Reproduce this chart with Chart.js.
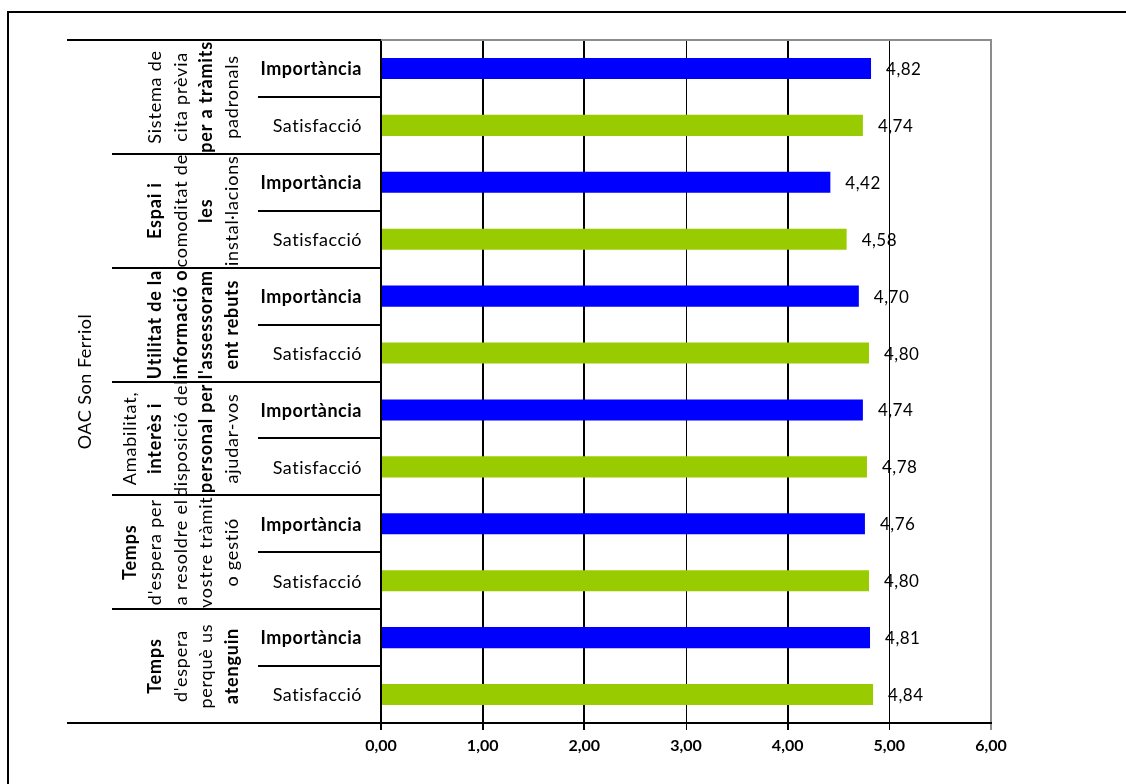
<!DOCTYPE html>
<html>
<head>
<meta charset="utf-8">
<title>OAC Son Ferriol</title>
<script src="https://cdn.jsdelivr.net/npm/chart.js@4/dist/chart.umd.min.js"></script>
<style>
  html, body { margin: 0; padding: 0; background: #fff; }
  #wrap { width: 1126px; height: 784px; position: relative; }
</style>
</head>
<body>
<div id="wrap"><canvas id="c" width="1126" height="784"></canvas></div>
<script>
// Service and its surveyed aspects (each split into the lines shown on the axis)
const serviceName = 'OAC Son Ferriol';
const aspectLines = [
  ['Sistema de', 'cita prèvia', 'per a tràmits', 'padronals'],
  ['Espai i', 'comoditat de', 'les', 'instal·lacions'],
  ['Utilitat de la', 'informació o', "l'assessoram", 'ent rebuts'],
  ['Amabilitat,', 'interès i', 'disposició del', 'personal per', 'ajudar-vos'],
  ['Temps', "d'espera per", 'a resoldre el', 'vostre tràmit', 'o gestió'],
  ['Temps', "d'espera", 'perquè us', 'atenguin']
];
const measures = ['Importància', 'Satisfacció'];

// Average scores (scale 1–5)
const importancia = [4.82, 4.42, 4.70, 4.74, 4.76, 4.81];
const satisfaccio = [4.74, 4.58, 4.80, 4.78, 4.80, 4.84];

// Value axis
const xMin = 0;
const xMax = 6;
const xStep = 1;

// Lines of the aspect labels drawn in bold
const boldLines = new Set(['per a tràmits', 'Espai i', 'les', 'Utilitat de la', 'informació o',
  "l'assessoram", 'ent rebuts', 'interès i', 'personal per', 'Temps', 'atenguin']);

const FONT = 'Lato, "Open Sans", sans-serif';
const fmt = v => v.toFixed(2).replace('.', ',');

// One row per (aspect, measure); each series fills only its own rows
const rowLabels = [];
const impRows = [];
const satRows = [];
aspectLines.forEach((lines, g) => {
  rowLabels.push(g + '|' + measures[0]);
  impRows.push(importancia[g]);
  satRows.push(null);
  rowLabels.push(g + '|' + measures[1]);
  impRows.push(null);
  satRows.push(satisfaccio[g]);
});

const valueLabels = {
  id: 'valueLabels',
  afterDatasetsDraw(chart) {
    const ctx = chart.ctx;
    ctx.save();
    ctx.fillStyle = '#000';
    ctx.font = '17px ' + FONT;
    ctx.letterSpacing = '0.5px';
    ctx.textAlign = 'left';
    ctx.textBaseline = 'middle';
    chart.data.datasets.forEach((ds, di) => {
      const meta = chart.getDatasetMeta(di);
      meta.data.forEach((el, i) => {
        const v = ds.data[i];
        if (v === null || v === undefined) return;
        ctx.fillText(fmt(v), el.x + 15, el.y + 1);
      });
    });
    ctx.restore();
  }
};

const categoryTable = {
  id: 'categoryTable',
  afterDraw(chart) {
    const ctx = chart.ctx;
    const y = chart.scales.y;
    const area = chart.chartArea;
    const n = rowLabels.length;
    const rowPx = i => y.getPixelForValue(i);
    const edge = i => (i <= 0) ? area.top : (i >= n) ? area.bottom : (rowPx(i - 1) + rowPx(i)) / 2;

    ctx.save();
    // outer frame
    ctx.strokeStyle = '#000';
    ctx.lineWidth = 2;
    ctx.beginPath();
    ctx.moveTo(8, 784);
    ctx.lineTo(8, 12);
    ctx.lineTo(1126, 12);
    ctx.stroke();

    // plot area top border
    ctx.strokeStyle = '#8c8c8c';
    ctx.beginPath();
    ctx.moveTo(area.left, area.top);
    ctx.lineTo(area.right + 1, area.top);
    ctx.stroke();

    // category separators
    ctx.strokeStyle = '#000';
    ctx.beginPath();
    ctx.moveTo(67, area.top); ctx.lineTo(area.left, area.top);
    ctx.moveTo(67, area.bottom); ctx.lineTo(area.left, area.bottom);
    for (let i = 1; i < n; i++) {
      const yy = Math.round(edge(i));
      const x0 = (i % 2 === 0) ? 112 : 258;
      ctx.moveTo(x0, yy); ctx.lineTo(area.left, yy);
    }
    ctx.stroke();

    // measure labels
    ctx.fillStyle = '#000';
    ctx.textAlign = 'right';
    ctx.textBaseline = 'middle';
    ctx.letterSpacing = '0.5px';
    rowLabels.forEach((lab, i) => {
      const m = lab.split('|')[1];
      ctx.font = (m === measures[0] ? 'bold ' : '') + '18px ' + FONT;
      ctx.fillText(m, area.left - 19, rowPx(i) + 1);
    });

    // aspect labels, rotated
    ctx.letterSpacing = '0.8px';
    ctx.textAlign = 'center';
    aspectLines.forEach((lines, g) => {
      const top = edge(2 * g);
      const bot = edge(2 * g + 2);
      const cy = (top + bot) / 2;
      ctx.save();
      ctx.beginPath();
      ctx.rect(112, top + 1, 146, bot - top - 2);
      ctx.clip();
      lines.forEach((t, k) => {
        const cx = 231 - (lines.length - 1 - k) * 25.5;
        ctx.save();
        ctx.translate(cx, cy);
        ctx.rotate(-Math.PI / 2);
        ctx.font = (boldLines.has(t) ? 'bold ' : '') + '18px ' + FONT;
        ctx.fillText(t, 0, 1);
        ctx.restore();
      });
      ctx.restore();
    });

    // service label
    ctx.save();
    ctx.translate(84, (area.top + area.bottom) / 2);
    ctx.rotate(-Math.PI / 2);
    ctx.letterSpacing = '0.5px';
    ctx.font = '18px ' + FONT;
    ctx.fillText(serviceName, 0, 1);
    ctx.restore();

    ctx.restore();
  }
};

new Chart(document.getElementById('c'), {
  type: 'bar',
  data: {
    labels: rowLabels,
    datasets: [
      { label: measures[0], data: impRows, backgroundColor: '#0000ff', borderWidth: 0 },
      { label: measures[1], data: satRows, backgroundColor: '#99cc00', borderWidth: 0 }
    ]
  },
  options: {
    indexAxis: 'y',
    responsive: false,
    animation: false,
    grouped: false,
    categoryPercentage: 1,
    barPercentage: 0.37,
    layout: { padding: { left: 0, top: 40, right: 135, bottom: 0 } },
    plugins: { legend: { display: false }, tooltip: { enabled: false } },
    scales: {
      x: {
        min: xMin,
        max: xMax,
        ticks: {
          stepSize: xStep,
          color: '#000',
          padding: 6,
          font: { family: FONT, size: 16, weight: 'bold' },
          callback: v => fmt(v)
        },
        grid: {
          color: c => (c.tick && c.tick.value === xMax) ? '#8c8c8c' : '#000',
          tickColor: c => (c.tick && c.tick.value === xMax) ? '#8c8c8c' : '#000',
          lineWidth: c => (c.tick && (c.tick.value === 3 || c.tick.value === 5)) ? 1 : 2,
          tickLength: 7
        },
        border: { display: true, color: '#000', width: 2 },
        afterFit: s => { s.height = 61; }
      },
      y: {
        type: 'category',
        offset: true,
        ticks: { display: false },
        grid: { display: false },
        border: { display: true, color: '#000', width: 2 },
        afterFit: s => { s.width = 381; }
      }
    }
  },
  plugins: [valueLabels, categoryTable]
});
</script>
</body>
</html>
